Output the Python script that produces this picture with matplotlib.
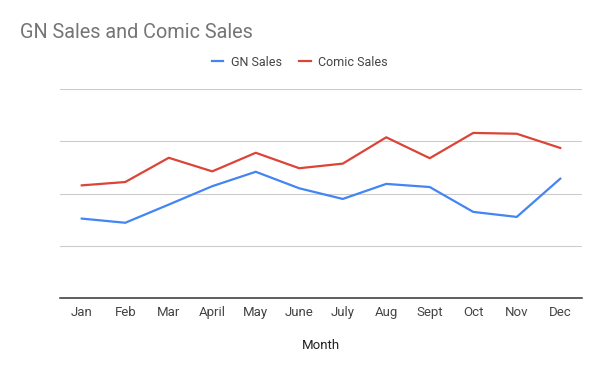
import matplotlib
matplotlib.use("Agg")
from matplotlib import pyplot as plt
import numpy as np

plt.rcParams['font.family'] = ['Roboto', 'DejaVu Sans']

months = ["Jan", "Feb", "Mar", "April", "May", "June", "July", "Aug", "Sept", "Oct", "Nov", "Dec"]
gn_sales = [38.0, 36.0, 44.7, 53.5, 60.4, 52.5, 47.4, 54.6, 53.1, 41.2, 38.8, 57.1]
comic_sales = [53.9, 55.5, 67.1, 60.6, 69.5, 62.1, 64.3, 76.9, 66.9, 79.0, 78.6, 71.8]

fig = plt.figure(figsize=(6, 3.71), dpi=100)
ax = fig.add_axes([0.1, 0.1968, 0.87, 0.5632])

x = np.arange(len(months))
ax.plot(x, gn_sales, color="#4285F4", lw=1.6, label="GN Sales")
ax.plot(x, comic_sales, color="#DB4437", lw=1.6, label="Comic Sales")

ax.set_xlim(-0.5, len(months) - 0.5)
ax.set_ylim(0, 100)
ax.set_yticks([0, 25, 50, 75, 100])
ax.set_yticklabels([])
ax.yaxis.grid(True, color="#cccccc", lw=0.8)
ax.set_axisbelow(True)
ax.tick_params(axis="y", length=0)
ax.tick_params(axis="x", length=0, pad=6, labelsize=9.5, labelcolor="#444444")
ax.set_xticks(x)
ax.set_xticklabels(months)
for s in ["top", "right", "left"]:
    ax.spines[s].set_visible(False)
ax.spines["bottom"].set_color("#333333")
ax.spines["bottom"].set_linewidth(1.1)
ax.spines["bottom"].set_zorder(3)

ax.set_xlabel("Month", fontsize=9.5, color="#222222", labelpad=14)

fig.text(20 / 600, 1 - 32 / 371, "GN Sales and Comic Sales", fontsize=14.3, color="#757575",
         ha="left", va="center")

fig.legend(loc="center", bbox_to_anchor=(0.5, 1 - 62 / 371), ncol=2, frameon=False,
           fontsize=9, handlelength=0.9, handletextpad=0.6, columnspacing=1.4,
           labelcolor="#444444")

fig.savefig("out.png", dpi=100)
